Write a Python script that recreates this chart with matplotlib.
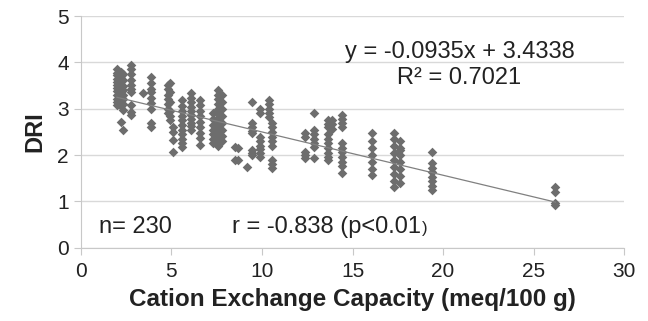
import numpy as np
import matplotlib
matplotlib.use('Agg')
from matplotlib import pyplot as plt

plt.rcParams['font.family'] = ['Liberation Sans', 'DejaVu Sans']

# CEC columns (meq/100 g) and the DRI values measured in each one
cec_cols = [2.0, 2.2, 2.35, 2.75, 3.45, 3.9, 4.8, 4.95, 5.1, 5.6, 6.1, 6.6,
            7.3, 7.55, 7.8, 8.5, 8.7, 9.2, 9.45, 9.9, 10.4, 10.55, 12.4, 12.9,
            13.65, 13.85, 14.4, 16.1, 17.3, 17.6, 19.4, 26.2]
dri_cols = [
    [3.85, 3.78, 3.72, 3.65, 3.58, 3.52, 3.45, 3.38, 3.3, 3.22, 3.15, 3.08],
    [3.8, 3.7, 3.6, 3.5, 3.42, 3.35, 3.25, 3.18, 3.05, 2.72],
    [3.75, 3.62, 3.5, 3.4, 3.3, 3.2, 3.1, 2.98, 2.54],
    [3.95, 3.86, 3.75, 3.62, 3.52, 3.42, 3.36, 3.08, 2.92, 2.87],
    [3.34],
    [3.69, 3.55, 3.42, 3.35, 3.24, 3.12, 3.0, 2.7, 2.6],
    [3.52, 3.42, 3.3, 3.2, 3.1, 3.0, 2.9],
    [3.55, 3.35, 3.15, 2.95, 2.85, 2.76],
    [2.6, 2.5, 2.33, 2.07],
    [3.19, 3.05, 2.95, 2.85, 2.75, 2.65, 2.55, 2.45, 2.35, 2.25, 2.17],
    [3.34, 3.24, 3.14, 3.04, 2.95, 2.86, 2.78, 2.7, 2.62, 2.54],
    [3.19, 3.08, 2.95, 2.85, 2.72, 2.6, 2.48, 2.36, 2.22],
    [2.9, 2.78, 2.65, 2.55, 2.45, 2.35, 2.25],
    [3.4, 3.3, 3.2, 3.1, 3.0, 2.9, 2.8, 2.7, 2.6, 2.5, 2.4, 2.3, 2.2],
    [3.3, 3.15, 3.0, 2.85, 2.7, 2.55, 2.42, 2.3],
    [2.17, 1.89],
    [1.89, 2.15],
    [1.74],
    [3.15, 2.69, 2.6, 2.52, 2.47, 2.1, 2.05, 2.0],
    [3.0, 2.9, 2.39, 2.3, 2.2, 2.12, 2.04, 1.96],
    [3.19, 3.1, 3.0, 2.9, 2.82],
    [2.69, 2.6, 2.5, 2.4, 2.3, 2.2, 1.89, 1.8, 1.72],
    [2.47, 2.4, 2.07, 2.0, 1.94],
    [2.9, 2.54, 2.45, 2.35, 2.25, 2.17, 1.94],
    [2.76, 2.68, 2.6, 2.45, 2.35, 2.25, 2.15, 2.05, 1.95, 1.89],
    [2.76, 2.66, 2.56],
    [2.86, 2.78, 2.7, 2.6, 2.26, 2.16, 2.06, 1.96, 1.86, 1.76, 1.61],
    [2.47, 2.3, 2.15, 2.0, 1.85, 1.7, 1.57],
    [2.47, 2.35, 2.2, 2.05, 1.9, 1.75, 1.6, 1.45, 1.3],
    [2.3, 2.15, 2.1, 2.0, 1.85, 1.7, 1.55, 1.4],
    [2.07, 1.83, 1.73, 1.63, 1.53, 1.43, 1.33, 1.25],
    [1.31, 1.2, 0.96, 0.92],
]
slope, intercept = -0.0935, 3.4338

cec = np.concatenate([[c] * len(d) for c, d in zip(cec_cols, dri_cols)])
dri = np.concatenate(dri_cols)

fig = plt.figure(figsize=(6.48, 3.21), dpi=100)
ax = fig.add_axes([0.1245, 0.2283, 0.839, 0.7218])

ax.grid(axis='y', color='#d9d9d9', linewidth=1.0)
ax.set_axisbelow(True)
ax.scatter(cec, dri, marker='D', s=24, color='#6d6d6d', linewidths=0, zorder=3)

xl = np.array([cec.min(), cec.max()])
ax.plot(xl, slope * xl + intercept, color='#808080', linewidth=0.9, zorder=4)

ax.set_xlim(0, 30)
ax.set_ylim(0, 5)
ax.set_xticks(range(0, 31, 5))
ax.set_yticks(range(0, 6))
for s in ['top', 'right']:
    ax.spines[s].set_visible(False)
for s in ['left', 'bottom']:
    ax.spines[s].set_color('#c8c8c8')
ax.tick_params(colors='#c8c8c8', labelcolor='#222222', labelsize=15, length=5)
ax.tick_params(axis='x', pad=5)

ax.set_xlabel('Cation Exchange Capacity (meq/100 g)', fontsize=17.5,
              fontweight='bold', color='#222222', labelpad=5)
ax.set_ylabel('DRI', fontsize=17, fontweight='bold', color='#222222', labelpad=8)

ax.text(20.9, 4.23, 'y = -0.0935x + 3.4338', fontsize=17, ha='center',
        va='center', color='#222222')
ax.text(20.9, 3.67, 'R² = 0.7021', fontsize=17, ha='center', va='center',
        color='#222222')
ax.text(1.0, 0.45, 'n= 230', fontsize=17, ha='left', va='center', color='#222222')
rt = ax.text(8.35, 0.45, 'r = -0.838 (p<0.01', fontsize=17, ha='left',
             va='center', color='#222222')
ax.annotate(')', xy=(1, 0.5), xycoords=rt, xytext=(1, -1),
            textcoords='offset points', fontsize=12, ha='left', va='center',
            color='#222222')

fig.savefig('out.png', dpi=100)
